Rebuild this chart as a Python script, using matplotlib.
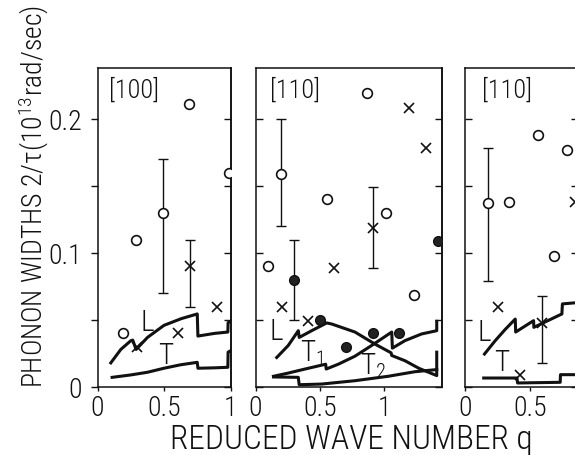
import matplotlib
matplotlib.use("Agg")
from matplotlib import pyplot as plt

# thin condensed sans, close to the typeset look of the original figure
plt.rcParams["font.family"] = ["Roboto Condensed", "DejaVu Sans"]
plt.rcParams["font.weight"] = "light"
plt.rcParams["mathtext.fontset"] = "custom"
plt.rcParams["mathtext.rm"] = "Roboto Condensed:light"
plt.rcParams["mathtext.it"] = "Roboto Condensed:light"
plt.rcParams["mathtext.bf"] = "Roboto Condensed:light"

INK = "#111111"

# ---------- [100] panel ----------
p1_open_q = [0.19, 0.29, 0.49, 0.69, 0.99]
p1_open_w = [0.040, 0.110, 0.130, 0.211, 0.160]
p1_cross_q = [0.297, 0.605, 0.697, 0.898]
p1_cross_w = [0.030, 0.040, 0.090, 0.060]
p1_err_q = [0.49, 0.697]
p1_err_w = [0.130, 0.090]
p1_err_lo = [0.070, 0.060]
p1_err_hi = [0.170, 0.110]

p1_L_q = [0.10, 0.175, 0.25, 0.265, 0.29, 0.376, 0.50, 0.63, 0.75, 0.755, 0.88, 0.98, 0.982, 1.0]
p1_L_w = [0.018, 0.028, 0.0345, 0.035, 0.028, 0.037, 0.046, 0.051, 0.0545, 0.038, 0.040, 0.041, 0.048, 0.049]
p1_T_q = [0.11, 0.25, 0.376, 0.50, 0.626, 0.75, 0.755, 0.88, 0.98, 0.982, 1.0]
p1_T_w = [0.0072, 0.009, 0.011, 0.014, 0.0166, 0.0184, 0.014, 0.0143, 0.0147, 0.026, 0.027]

# ---------- first [110] panel ----------
p2_open_q = [0.095, 0.196, 0.559, 0.865, 1.013, 1.236]
p2_open_w = [0.090, 0.159, 0.140, 0.219, 0.130, 0.069]
p2_cross_q = [0.204, 0.411, 0.613, 0.912, 1.197, 1.327]
p2_cross_w = [0.0595, 0.0495, 0.089, 0.119, 0.208, 0.178]
p2_fill_q = [0.302, 0.502, 0.704, 0.912, 1.117, 1.418]
p2_fill_w = [0.080, 0.050, 0.030, 0.040, 0.040, 0.109]
p2_err_q = [0.196, 0.302, 0.912]
p2_err_w = [0.159, 0.080, 0.119]
p2_err_lo = [0.120, 0.050, 0.089]
p2_err_hi = [0.200, 0.110, 0.149]

p2_L_q = [0.165, 0.255, 0.333, 0.34, 0.437, 0.554, 0.593, 0.774, 0.93, 1.055, 1.06, 1.163, 1.27, 1.41, 1.41]
p2_L_w = [0.022, 0.031, 0.042, 0.037, 0.042, 0.0478, 0.047, 0.041, 0.032, 0.0255, 0.0235, 0.0196, 0.014, 0.0085, 0.026]
p2_T1_q = [0.14, 0.255, 0.385, 0.546, 0.55, 0.644, 0.774, 0.904, 1.06, 1.065, 1.163, 1.293, 1.41, 1.41]
p2_T1_w = [0.008, 0.0104, 0.0134, 0.017, 0.0134, 0.017, 0.023, 0.031, 0.041, 0.029, 0.0346, 0.0396, 0.042, 0.049]
p2_T2_q = [0.14, 0.333, 0.34, 0.515, 0.774, 1.033, 1.24, 1.41]
p2_T2_w = [0.0075, 0.0072, 0.0017, 0.0022, 0.0047, 0.008, 0.0114, 0.013]

# ---------- second [110] panel ----------
p3_open_q = [0.179, 0.338, 0.564, 0.685, 0.782]
p3_open_w = [0.137, 0.138, 0.188, 0.098, 0.177]
p3_cross_q = [0.256, 0.425, 0.592, 0.846]
p3_cross_w = [0.0595, 0.009, 0.048, 0.138]
p3_err_q = [0.179, 0.592]
p3_err_w = [0.137, 0.048]
p3_err_lo = [0.079, 0.018]
p3_err_hi = [0.178, 0.068]

p3_L_q = [0.15, 0.233, 0.31, 0.387, 0.39, 0.528, 0.53, 0.746, 0.75, 0.87]
p3_L_w = [0.0246, 0.0346, 0.043, 0.0507, 0.041, 0.0495, 0.0445, 0.0545, 0.062, 0.063]
p3_T_q = [0.144, 0.40, 0.405, 0.733, 0.735, 0.87]
p3_T_w = [0.0067, 0.0067, 0.003, 0.0035, 0.0092, 0.0092]

W, H = 575, 456
fig = plt.figure(figsize=(W / 100, H / 100), dpi=100)

ax1 = fig.add_axes([97.5 / W, 68 / H, 133 / W, 319 / H])
ax2 = fig.add_axes([255.5 / W, 68 / H, 186.5 / W, 319 / H])
ax3 = fig.add_axes([465 / W, 68 / H, 113 / W, 319 / H])


def style(ax, xmax, xticks, left_out):
    ax.set_xlim(0, xmax)
    ax.set_ylim(0, 0.238)
    ax.set_xticks(xticks)
    ax.set_xticklabels(["%g" % t for t in xticks])
    ax.set_yticks([0, 0.1, 0.2])
    ax.set_yticks([0.05, 0.15], minor=True)
    ax.set_yticklabels(["0", "0.1", "0.2"])
    ax.tick_params(axis="x", direction="out", length=3, width=1, pad=2,
                   labelsize=20, colors=INK)
    ax.tick_params(axis="y", which="both", direction="out" if left_out else "in",
                   length=5, width=1, pad=6, labelsize=20, colors=INK,
                   labelleft=left_out, right=False)
    for s in ax.spines.values():
        s.set_linewidth(1.1)
        s.set_color(INK)
    sec = ax.secondary_yaxis("right")
    sec.set_yticks([0, 0.1, 0.2])
    sec.set_yticks([0.05, 0.15], minor=True)
    sec.tick_params(which="both", direction="in", length=5, width=1,
                    labelright=False, colors=INK)
    sec.spines["right"].set_linewidth(1.1)


def points(ax, oq, ow, xq, xw, fq=None, fw=None, eq=None, ew=None, elo=None, ehi=None):
    lo = [w - l for w, l in zip(ew, elo)]
    hi = [h - w for w, h in zip(ew, ehi)]
    ax.errorbar(eq, ew, yerr=[lo, hi], fmt="none", ecolor=INK, elinewidth=1.0,
                capsize=3.5, capthick=1.0, zorder=2)
    ax.plot(oq, ow, "o", ms=7, mfc="white", mec=INK, mew=1.2, zorder=4)
    ax.plot(xq, xw, "x", ms=6.5, color=INK, mew=1.2, zorder=4)
    if fq is not None:
        ax.plot(fq, fw, "o", ms=7, mfc="#222222", mec=INK, mew=1.0, zorder=4)


style(ax1, 1.0, [0, 0.5, 1], True)
style(ax2, 1.451, [0, 0.5, 1], False)
style(ax3, 0.87, [0, 0.5], False)

lw = 2.2
ax1.plot(p1_L_q, p1_L_w, color=INK, lw=lw, zorder=3)
ax1.plot(p1_T_q, p1_T_w, color=INK, lw=lw, zorder=3)
points(ax1, p1_open_q, p1_open_w, p1_cross_q, p1_cross_w,
       eq=p1_err_q, ew=p1_err_w, elo=p1_err_lo, ehi=p1_err_hi)

ax2.plot(p2_L_q, p2_L_w, color=INK, lw=lw, zorder=3)
ax2.plot(p2_T1_q, p2_T1_w, color=INK, lw=lw, zorder=3)
ax2.plot(p2_T2_q, p2_T2_w, color=INK, lw=lw, zorder=3)
points(ax2, p2_open_q, p2_open_w, p2_cross_q, p2_cross_w, p2_fill_q, p2_fill_w,
       eq=p2_err_q, ew=p2_err_w, elo=p2_err_lo, ehi=p2_err_hi)

ax3.plot(p3_L_q, p3_L_w, color=INK, lw=lw, zorder=3)
ax3.plot(p3_T_q, p3_T_w, color=INK, lw=lw, zorder=3)
points(ax3, p3_open_q, p3_open_w, p3_cross_q, p3_cross_w,
       eq=p3_err_q, ew=p3_err_w, elo=p3_err_lo, ehi=p3_err_hi)

# panel titles
ax1.text(0.09, 0.975, "[100]", transform=ax1.transAxes, fontsize=19, va="top", color=INK)
ax2.text(0.08, 0.975, "[110]", transform=ax2.transAxes, fontsize=19, va="top", color=INK)
ax3.text(0.15, 0.975, "[110]", transform=ax3.transAxes, fontsize=19, va="top", color=INK)

# branch labels
lab = dict(fontsize=21, ha="center", va="center", color=INK)
ax1.text(0.372, 0.0485, "L", **lab)
ax1.text(0.515, 0.024, "T", **lab)
ax2.text(0.163, 0.042, "L", **lab)
ax2.text(0.44, 0.026, "T$_1$", **lab)
ax2.text(0.92, 0.0165, "T$_2$", **lab)
ax3.text(0.146, 0.0414, "L", **lab)
ax3.text(0.285, 0.019, "T", **lab)

fig.text(351 / W, 1 - 440 / H, "REDUCED WAVE NUMBER q", fontsize=24,
         ha="center", va="center", color=INK)
fig.text(34 / W, 1 - 197 / H, "PHONON WIDTHS 2/\u03c4(10$^{13}$rad/sec)", fontsize=20,
         rotation=90, ha="center", va="center", color=INK)

fig.savefig("out.png", dpi=100)
